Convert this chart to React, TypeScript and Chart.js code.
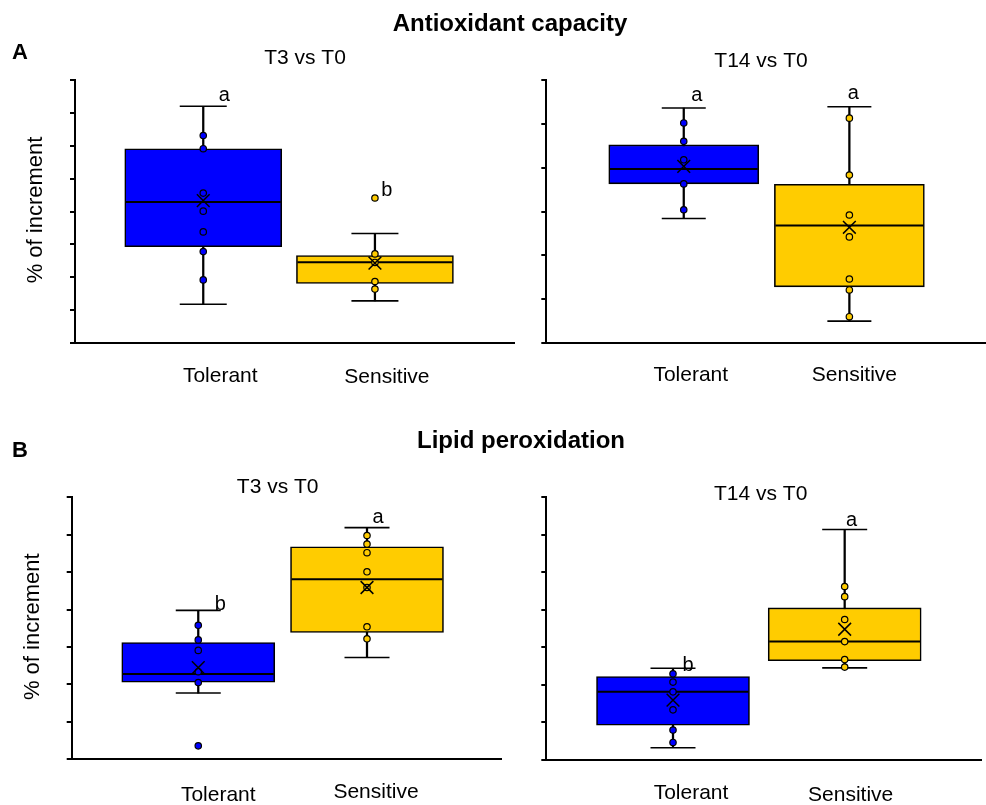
import React, { useEffect, useRef } from "react";
import { Chart, registerables } from "chart.js";

Chart.register(...registerables);

// ---------- data ----------
const categories = ["Tolerant", "Sensitive"];
const groupColors = ["#0000ff", "#ffcc00"];

// Antioxidant capacity – T3 vs T0
const aoxT3YMax = 8;
const aoxT3Low = [1.18, 1.28];
const aoxT3Q1 = [2.93, 1.81];
const aoxT3Median = [4.29, 2.46];
const aoxT3Q3 = [5.91, 2.66];
const aoxT3High = [7.2, 3.33];
const aoxT3Mean = [4.33, 2.43];
const aoxT3TolerantPts = [6.31, 5.91, 4.56, 4.01, 3.38, 2.78, 1.92];
const aoxT3SensitivePts = [4.41, 2.71, 2.45, 1.87, 1.64];
const aoxT3Letters = ["a", "b"];

// Antioxidant capacity – T14 vs T0
const aoxT14YMax = 6;
const aoxT14Low = [2.84, 0.5];
const aoxT14Q1 = [3.63, 1.28];
const aoxT14Median = [3.97, 2.68];
const aoxT14Q3 = [4.52, 3.62];
const aoxT14High = [5.36, 5.39];
const aoxT14Mean = [4.03, 2.64];
const aoxT14TolerantPts = [5.02, 4.6, 4.18, 3.63, 3.04];
const aoxT14SensitivePts = [5.13, 3.83, 2.92, 2.42, 1.46, 1.21, 0.6];
const aoxT14Letters = ["a", "a"];

// Lipid peroxidation – T3 vs T0
const lipT3YMax = 7;
const lipT3Low = [1.77, 2.72];
const lipT3Q1 = [2.06, 3.39];
const lipT3Median = [2.28, 4.81];
const lipT3Q3 = [3.12, 5.68];
const lipT3High = [3.98, 6.19];
const lipT3Mean = [2.45, 4.59];
const lipT3TolerantPts = [3.58, 3.19, 2.91, 2.34, 2.05, 0.36];
const lipT3SensitivePts = [5.98, 5.75, 5.52, 5.01, 4.59, 3.54, 3.22];
const lipT3Letters = ["b", "a"];

// Lipid peroxidation – T14 vs T0
const lipT14YMax = 7;
const lipT14Low = [0.32, 2.45];
const lipT14Q1 = [0.92, 2.64];
const lipT14Median = [1.81, 3.15];
const lipT14Q3 = [2.22, 4.05];
const lipT14High = [2.44, 6.14];
const lipT14Mean = [1.59, 3.48];
const lipT14TolerantPts = [2.29, 2.07, 1.81, 1.33, 0.79, 0.46];
const lipT14SensitivePts = [4.62, 4.35, 3.74, 3.15, 2.67, 2.47];
const lipT14Letters = ["b", "a"];

// ---------- layout ----------
const W = 986;
const H = 805;
const FONT = "'Liberation Sans', Arial, Helvetica, sans-serif";

type TextItem = { text: string; x: number; y: number; font: string; rotate?: boolean };

type Panel = {
  yMax: number;
  low: number[];
  q1: number[];
  median: number[];
  q3: number[];
  high: number[];
  mean: number[];
  points: number[][];
  letters: string[];
  area: { left: number; top: number; right: number; bottom: number };
  xRange: [number, number];
  boxWidth: number;
  capWidth: number;
  labelDx: number[];
  labelDy: number[];
  letterDx: number[];
  letterDy: number[];
  texts: TextItem[];
};

const panels: Panel[] = [
  {
    yMax: aoxT3YMax,
    low: aoxT3Low,
    q1: aoxT3Q1,
    median: aoxT3Median,
    q3: aoxT3Q3,
    high: aoxT3High,
    mean: aoxT3Mean,
    points: [aoxT3TolerantPts, aoxT3SensitivePts],
    letters: aoxT3Letters,
    area: { left: 75, top: 80, right: 514, bottom: 343 },
    xRange: [0.253, 2.81],
    boxWidth: 157,
    capWidth: 47,
    labelDx: [17, 12],
    labelDy: [33, 34],
    letterDx: [21, 12],
    letterDy: [-11, -8],
    texts: [
      { text: "Antioxidant capacity", x: 510, y: 24, font: `bold 24px ${FONT}` },
      { text: "A", x: 20, y: 53, font: `bold 22px ${FONT}` },
      { text: "T3 vs T0", x: 305, y: 58, font: `21px ${FONT}` },
      { text: "% of increment", x: 36, y: 210, font: `22px ${FONT}`, rotate: true },
    ],
  },
  {
    yMax: aoxT14YMax,
    low: aoxT14Low,
    q1: aoxT14Q1,
    median: aoxT14Median,
    q3: aoxT14Q3,
    high: aoxT14High,
    mean: aoxT14Mean,
    points: [aoxT14TolerantPts, aoxT14SensitivePts],
    letters: aoxT14Letters,
    area: { left: 546.3, top: 80, right: 986, bottom: 343 },
    xRange: [0.17, 2.825],
    boxWidth: 150,
    capWidth: 44,
    labelDx: [7, 5],
    labelDy: [32, 32],
    letterDx: [13, 4],
    letterDy: [-13, -13],
    texts: [{ text: "T14 vs T0", x: 761, y: 61.7, font: `21px ${FONT}` }],
  },
  {
    yMax: lipT3YMax,
    low: lipT3Low,
    q1: lipT3Q1,
    median: lipT3Median,
    q3: lipT3Q3,
    high: lipT3High,
    mean: lipT3Mean,
    points: [lipT3TolerantPts, lipT3SensitivePts],
    letters: lipT3Letters,
    area: { left: 71.7, top: 497.3, right: 502, bottom: 759.3 },
    xRange: [0.25, 2.8],
    boxWidth: 153,
    capWidth: 45,
    labelDx: [20, 9],
    labelDy: [35.7, 33.4],
    letterDx: [22, 11],
    letterDy: [-6, -10],
    texts: [
      { text: "Lipid peroxidation", x: 521, y: 441.7, font: `bold 24px ${FONT}` },
      { text: "B", x: 20, y: 450.7, font: `bold 22px ${FONT}` },
      { text: "T3 vs T0", x: 277.7, y: 487.3, font: `21px ${FONT}` },
      { text: "% of increment", x: 33.3, y: 626.7, font: `22px ${FONT}`, rotate: true },
    ],
  },
  {
    yMax: lipT14YMax,
    low: lipT14Low,
    q1: lipT14Q1,
    median: lipT14Median,
    q3: lipT14Q3,
    high: lipT14High,
    mean: lipT14Mean,
    points: [lipT14TolerantPts, lipT14SensitivePts],
    letters: lipT14Letters,
    area: { left: 546.3, top: 497.3, right: 981, bottom: 759.7 },
    xRange: [0.262, 2.794],
    boxWidth: 153,
    capWidth: 45,
    labelDx: [18, 6],
    labelDy: [33.6, 35.3],
    letterDx: [15, 7],
    letterDy: [-3, -9],
    texts: [{ text: "T14 vs T0", x: 760.7, y: 494, font: `21px ${FONT}` }],
  },
];

const TICK_LEN = 5;

function buildConfig(p: Panel): any {
  const xs = categories.map((_, i) => i + 1);
  const boxData = xs.map((x, i) => ({ x, y: [p.q1[i], p.q3[i]] }));
  const whiskerData = xs.map((x, i) => ({ x, y: [p.low[i], p.high[i]] }));
  const capData = xs.flatMap((x, i) => [
    { x, y: p.low[i] },
    { x, y: p.high[i] },
  ]);
  const medianData = xs.map((x, i) => ({ x, y: p.median[i] }));
  const meanData = xs.map((x, i) => ({ x, y: p.mean[i] }));
  const pointData = xs.flatMap((x, i) => p.points[i].map((y) => ({ x, y })));
  const pointColors = pointData.map((d) => groupColors[d.x - 1]);

  const textPlugin = {
    id: "panelText",
    afterDraw(chart: any) {
      const ctx = chart.ctx as CanvasRenderingContext2D;
      const xScale = chart.scales.x;
      const yScale = chart.scales.y;
      ctx.save();
      ctx.fillStyle = "#000";
      ctx.textAlign = "center";
      ctx.textBaseline = "middle";
      // category labels
      ctx.font = `21px ${FONT}`;
      categories.forEach((c, i) => {
        ctx.fillText(c, xScale.getPixelForValue(i + 1) + p.labelDx[i], yScale.bottom + p.labelDy[i]);
      });
      // significance letters
      ctx.font = `20px ${FONT}`;
      p.letters.forEach((l, i) => {
        const top = Math.max(p.high[i], ...p.points[i]);
        ctx.fillText(l, xScale.getPixelForValue(i + 1) + p.letterDx[i], yScale.getPixelForValue(top) + p.letterDy[i]);
      });
      // titles and axis labels
      p.texts.forEach((t) => {
        ctx.font = t.font;
        if (t.rotate) {
          ctx.save();
          ctx.translate(t.x, t.y);
          ctx.rotate(-Math.PI / 2);
          ctx.fillText(t.text, 0, 0);
          ctx.restore();
        } else {
          ctx.fillText(t.text, t.x, t.y);
        }
      });
      ctx.restore();
    },
  };

  return {
    type: "scatter",
    data: {
      datasets: [
        {
          type: "scatter",
          label: "mean",
          data: meanData,
          order: 0,
          pointStyle: "crossRot",
          pointRadius: 9,
          pointBorderWidth: 1.5,
          pointBorderColor: "#000",
          pointBackgroundColor: "rgba(0,0,0,0)",
          clip: false,
        },
        {
          type: "scatter",
          label: "points",
          data: pointData,
          order: 1,
          pointStyle: "circle",
          pointRadius: 3.2,
          pointBorderWidth: 1.2,
          pointBorderColor: "#000",
          pointBackgroundColor: pointColors,
          clip: false,
        },
        {
          type: "scatter",
          label: "median",
          data: medianData,
          order: 2,
          pointStyle: "line",
          pointRadius: p.boxWidth / 2 - 1,
          pointBorderWidth: 2,
          pointBorderColor: "#000",
          clip: false,
        },
        {
          type: "bar",
          label: "box",
          data: boxData,
          order: 3,
          grouped: false,
          barThickness: p.boxWidth,
          backgroundColor: groupColors,
          borderColor: "#000",
          borderWidth: 1.6,
          borderSkipped: false,
        },
        {
          type: "scatter",
          label: "caps",
          data: capData,
          order: 4,
          pointStyle: "line",
          pointRadius: p.capWidth / 2,
          pointBorderWidth: 1.6,
          pointBorderColor: "#000",
          clip: false,
        },
        {
          type: "bar",
          label: "whisker",
          data: whiskerData,
          order: 5,
          grouped: false,
          barThickness: 1.6,
          backgroundColor: "#000",
          borderWidth: 0,
        },
      ],
    },
    options: {
      responsive: false,
      animation: false,
      events: [],
      layout: {
        autoPadding: false,
        padding: {
          left: p.area.left - TICK_LEN,
          top: p.area.top,
          right: W - p.area.right,
          bottom: H - p.area.bottom,
        },
      },
      plugins: {
        legend: { display: false },
        tooltip: { enabled: false },
        title: { display: false },
      },
      scales: {
        x: {
          type: "linear",
          min: p.xRange[0],
          max: p.xRange[1],
          offset: false,
          grid: { display: false, drawTicks: false, offset: false },
          ticks: { display: false },
          border: { display: true, color: "#000", width: 2 },
        },
        y: {
          type: "linear",
          min: 0,
          max: p.yMax,
          grid: {
            display: true,
            drawOnChartArea: false,
            drawTicks: true,
            tickLength: TICK_LEN,
            color: "#000",
            lineWidth: 2,
          },
          ticks: { display: false, stepSize: 1 },
          border: { display: true, color: "#000", width: 2 },
        },
      },
    },
    plugins: [textPlugin],
  };
}

function PanelChart({ panel }: { panel: Panel }) {
  const ref = useRef<HTMLCanvasElement>(null);
  useEffect(() => {
    if (!ref.current) return;
    const chart = new Chart(ref.current, buildConfig(panel));
    return () => chart.destroy();
  }, [panel]);
  return (
    <canvas
      ref={ref}
      width={W}
      height={H}
      style={{ position: "absolute", left: 0, top: 0, width: W, height: H }}
    />
  );
}

export default function App() {
  return (
    <div
      style={{
        position: "absolute",
        left: 0,
        top: 0,
        width: W,
        height: H,
        background: "#fff",
        overflow: "hidden",
      }}
    >
      {panels.map((p, i) => (
        <PanelChart key={i} panel={p} />
      ))}
    </div>
  );
}
